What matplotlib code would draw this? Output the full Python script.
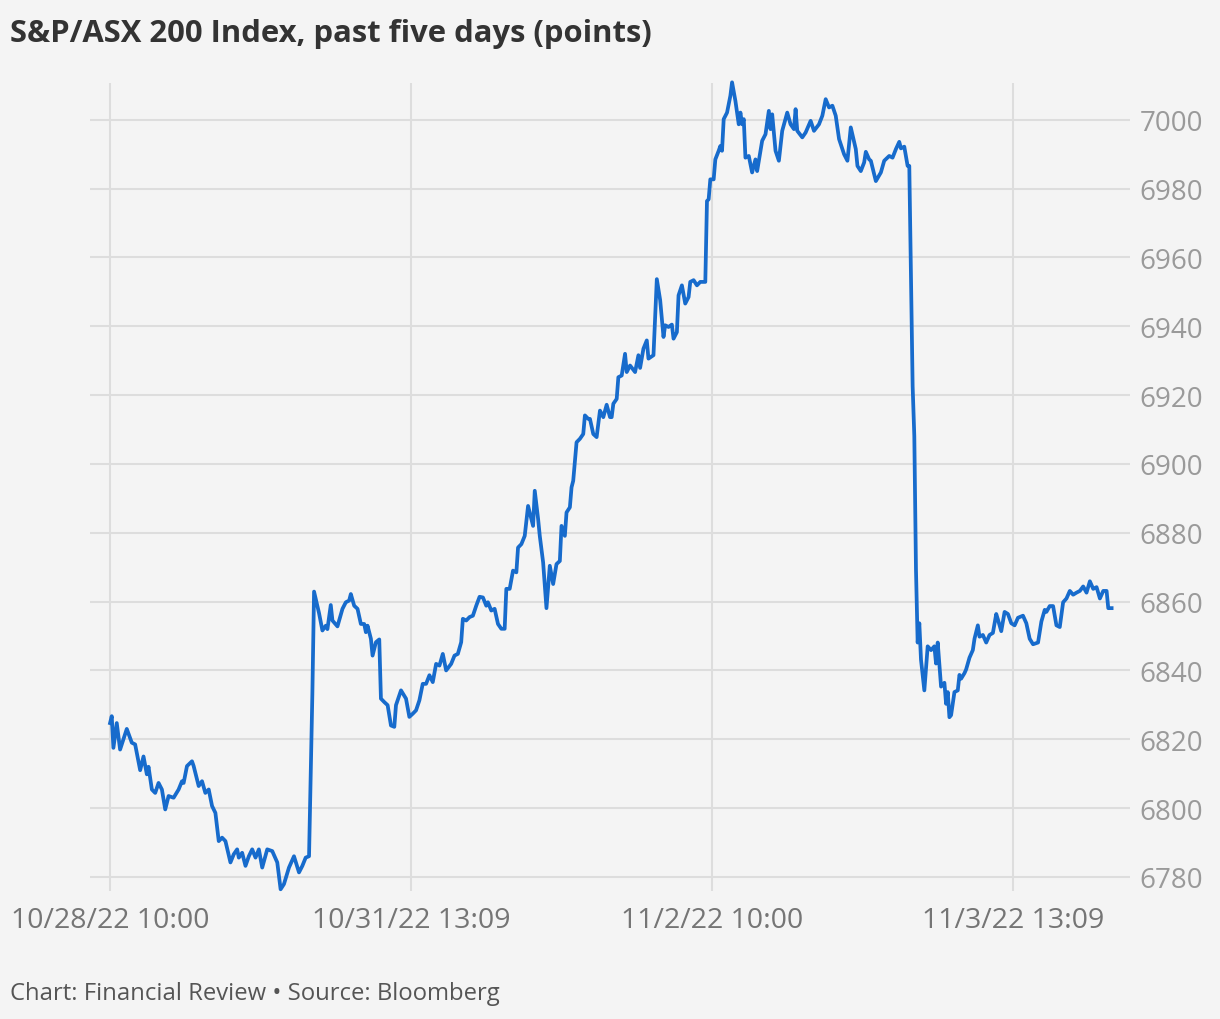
import matplotlib
matplotlib.use("Agg")
import matplotlib.pyplot as plt

# bar index of each sample (ticks every 180 bars) and index level in points
bar_idx = [
    0, 1, 2, 4, 6, 10, 13, 15, 18, 20, 22, 23, 25, 27, 29, 31, 33, 35, 38, 41,
    43, 44, 46, 49, 50, 53, 55, 57, 59, 61, 63, 65, 67, 69, 72, 74, 76, 77, 79, 81,
    83, 85, 87, 89, 91, 94, 97, 100, 102, 104, 107, 110, 113, 115, 117, 119, 121, 122, 125, 127,
    129, 130, 132, 133, 136, 139, 141, 143, 144, 146, 148, 150, 152, 153, 154, 156, 157, 159, 161, 162,
    164, 166, 168, 170, 171, 174, 177, 179, 181, 183, 185, 187, 189, 191, 193, 195, 197, 199, 201, 204,
    206, 208, 210, 211, 213, 215, 217, 219, 221, 223, 225, 226, 228, 230, 232, 234, 236, 237, 239, 241,
    243, 244, 246, 248, 250, 253, 254, 256, 257, 259, 261, 263, 265, 267, 269, 270, 272, 273, 275, 276,
    277, 279, 281, 283, 284, 286, 287, 289, 291, 293, 295, 297, 299, 300, 301, 303, 304, 306, 308, 309,
    311, 314, 316, 317, 319, 321, 322, 325, 327, 329, 331, 332, 334, 336, 337, 339, 340, 342, 344, 346,
    347, 349, 351, 353, 356, 357, 358, 359, 361, 362, 364, 365, 366, 367, 369, 371, 372, 374, 376, 377,
    378, 379, 380, 382, 384, 386, 387, 390, 392, 394, 395, 396, 398, 400, 402, 405, 407, 409, 410, 411,
    414, 416, 419, 421, 424, 426, 428, 430, 432, 434, 436, 439, 441, 443, 446, 447, 449, 451, 452, 454,
    455, 458, 461, 463, 466, 468, 470, 472, 473, 475, 477, 478, 480, 481, 482, 483, 484, 485, 487, 489,
    491, 493, 494, 495, 497, 499, 500, 501, 502, 503, 505, 507, 508, 509, 511, 512, 514, 516, 517, 519,
    520, 522, 524, 526, 528, 530, 531, 533, 535, 537, 539, 541, 543, 546, 548, 550, 552, 555, 557, 559,
    560, 562, 564, 566, 568, 570, 572, 574, 576, 578, 580, 582, 584, 586, 588, 590, 592, 594, 596, 597,
    599,
]
points = [
    6824.7, 6826.7, 6817.5, 6824.7, 6817.0, 6823.0, 6819.0, 6818.5, 6811.0, 6815.0,
    6809.8, 6812.0, 6805.4, 6804.4, 6807.3, 6805.4, 6799.6, 6803.5, 6803.0, 6805.4,
    6807.8, 6807.3, 6812.2, 6813.6, 6812.2, 6806.4, 6807.8, 6804.4, 6805.4, 6800.6,
    6798.6, 6790.4, 6791.4, 6790.4, 6784.2, 6786.6, 6788.0, 6785.6, 6787.0, 6783.2,
    6786.0, 6788.0, 6785.6, 6788.0, 6782.7, 6788.0, 6787.5, 6784.2, 6776.4, 6777.9,
    6782.7, 6786.0, 6781.3, 6783.2, 6785.6, 6786.0, 6833.4, 6862.9, 6856.6, 6851.6,
    6853.0, 6852.0, 6859.0, 6854.5, 6852.8, 6857.9, 6859.8, 6860.3, 6862.2, 6858.8,
    6857.9, 6853.5, 6853.5, 6851.1, 6853.0, 6849.2, 6844.3, 6848.2, 6849.0, 6831.8,
    6830.8, 6829.9, 6824.0, 6823.6, 6829.9, 6834.2, 6831.8, 6826.5, 6827.4, 6828.4,
    6831.3, 6836.1, 6836.1, 6838.6, 6836.6, 6841.9, 6841.4, 6844.8, 6840.0, 6841.9,
    6844.3, 6844.8, 6848.2, 6855.0, 6854.5, 6855.5, 6855.9, 6858.8, 6861.4, 6861.2,
    6858.8, 6859.8, 6857.4, 6857.9, 6853.5, 6852.1, 6852.1, 6863.7, 6863.7, 6869.0,
    6868.5, 6875.7, 6876.7, 6879.1, 6887.8, 6882.0, 6892.2, 6884.0, 6879.1, 6871.4,
    6858.1, 6870.4, 6865.1, 6870.9, 6871.8, 6882.0, 6879.1, 6885.9, 6887.4, 6893.2,
    6895.1, 6906.3, 6907.3, 6908.7, 6914.1, 6913.1, 6913.1, 6908.7, 6907.8, 6915.5,
    6913.6, 6917.2, 6913.6, 6913.6, 6917.5, 6918.9, 6925.2, 6925.7, 6932.0, 6926.7,
    6928.6, 6926.7, 6931.6, 6927.9, 6933.5, 6935.9, 6930.6, 6931.6, 6953.7, 6947.6,
    6936.9, 6940.3, 6939.8, 6940.5, 6936.4, 6938.3, 6949.0, 6951.9, 6946.6, 6948.5,
    6952.9, 6953.4, 6951.9, 6952.9, 6952.9, 6976.4, 6976.9, 6982.7, 6982.7, 6988.5,
    6991.0, 6992.4, 6991.0, 7000.2, 7002.1, 7007.0, 7010.9, 7005.5, 6998.7, 7002.1,
    6998.7, 7000.2, 6989.0, 6989.5, 6984.7, 6988.5, 6985.1, 6993.9, 6995.8, 7002.6,
    6997.3, 7001.6, 6991.0, 6988.1, 6996.8, 7002.1, 6998.7, 6997.3, 7003.1, 6996.8,
    6994.9, 6996.3, 6999.7, 6996.8, 6998.7, 7001.2, 7006.0, 7003.6, 7004.1, 7001.2,
    6994.4, 6990.0, 6988.1, 6997.8, 6991.5, 6986.6, 6985.1, 6987.6, 6990.7, 6988.5,
    6988.1, 6982.2, 6984.7, 6988.1, 6989.5, 6989.0, 6991.5, 6993.6, 6991.7, 6992.2,
    6986.6, 6986.6, 6922.6, 6908.1, 6869.2, 6848.1, 6853.7, 6843.1, 6834.2, 6847.0,
    6845.9, 6847.0, 6842.0, 6848.1, 6835.3, 6836.4, 6830.3, 6833.7, 6826.4, 6827.0,
    6833.7, 6834.2, 6838.7, 6837.6, 6839.2, 6840.3, 6843.7, 6845.9, 6849.2, 6853.1,
    6849.8, 6850.3, 6848.1, 6850.3, 6850.9, 6856.4, 6854.8, 6851.4, 6857.0, 6856.4,
    6853.7, 6853.1, 6855.3, 6855.9, 6853.7, 6849.2, 6847.6, 6848.1, 6854.2, 6857.6,
    6857.0, 6858.7, 6858.7, 6853.1, 6852.6, 6859.8, 6860.9, 6863.1, 6862.0, 6862.6,
    6863.1, 6864.4, 6862.6, 6865.9, 6863.7, 6864.2, 6860.9, 6863.1, 6863.1, 6858.1,
    6858.1,
]

tick_pos = [0, 180, 360, 540]
tick_labels = ["10/28/22 10:00", "10/31/22 13:09", "11/2/22 10:00", "11/3/22 13:09"]
y_ticks = [6780, 6800, 6820, 6840, 6860, 6880, 6900, 6920, 6940, 6960, 6980, 7000]

bg = "#f4f4f4"
plt.rcParams["font.family"] = ["Open Sans", "DejaVu Sans"]

fig = plt.figure(figsize=(12.2, 10.2), dpi=100, facecolor=bg)
ax = fig.add_axes([90 / 1220, 1 - 892 / 1020, 1040 / 1220, 808 / 1020], facecolor=bg)

ax.plot(bar_idx, points, color="#176bcc", lw=2.7, solid_joinstyle="round", clip_on=False, zorder=3)

ax.set_xlim(-12, 610)
ax.set_ylim(6775.9, 7010.7)
ax.set_xticks(tick_pos)
ax.set_xticklabels(tick_labels)
ax.set_yticks(y_ticks)
ax.yaxis.tick_right()
ax.tick_params(axis="y", length=0, pad=7, labelsize=20, labelcolor="#9a9a9a")
ax.tick_params(axis="x", length=0, pad=11, labelsize=20.5, labelcolor="#757575")
ax.grid(True, color="#dddddd", lw=1.5)
ax.set_axisbelow(True)
for s in ax.spines.values():
    s.set_visible(False)

fig.text(10 / 1220, 1 - 34 / 1020, "S&P/ASX 200 Index, past five days (points)",
         fontsize=22.3, fontweight="bold", color="#333333", va="center")
fig.text(10 / 1220, 1 - 994 / 1020, "Chart: Financial Review \u2022 Source: Bloomberg",
         fontsize=17.2, color="#555555", va="center")

fig.savefig("out.png", dpi=100, facecolor=bg)
